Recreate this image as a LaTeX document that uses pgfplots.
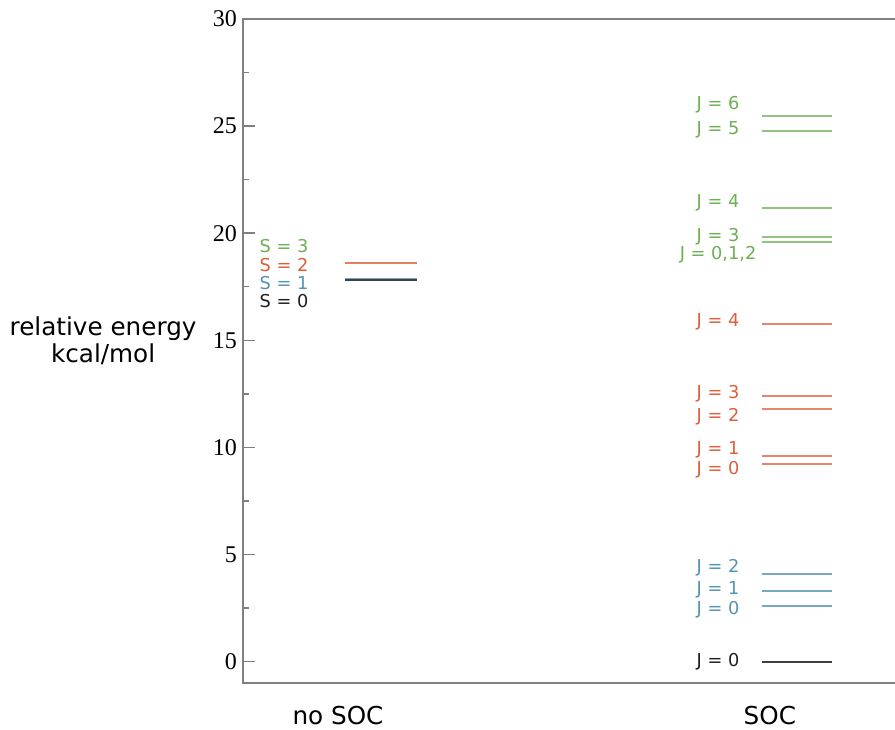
\documentclass[border=0pt]{standalone}
\usepackage{fontspec}
\setmainfont{DejaVu Sans}
\newfontfamily\numfont{Liberation Serif}
\usepackage{pgfplots}
\pgfplotsset{compat=1.18}

\definecolor{lvgreen}{RGB}{108,176,82}
\definecolor{lvorange}{RGB}{222,94,56}
\definecolor{lvblue}{RGB}{82,148,178}
\definecolor{lvblack}{RGB}{30,30,30}
\definecolor{axgray}{RGB}{128,128,128}

\begin{document}
\begin{tikzpicture}
\path[use as bounding box] (-182.25pt,-34.5pt) rectangle (489pt,512.25pt);
\clip (-182.25pt,-34.5pt) rectangle (489pt,512.25pt);
\begin{axis}[
    at={(0pt,0pt)}, anchor=south west,
    scale only axis,
    width=589.5pt, height=498pt,
    xmin=0.78, xmax=2.6,
    ymin=-1, ymax=30,
    clip=false,
    axis line style={draw=axgray, line width=1.5pt},
    ytick={0,5,...,30},
    minor ytick={2.5,7.5,...,27.5},
    ytick pos=left,
    tick align=inside,
    major tick length=9pt,
    minor tick length=4.5pt,
    every tick/.style={draw=axgray, line width=1.1pt},
    xtick={1,2},
    xticklabels={no SOC, SOC},
    x tick style={draw=none},
    xticklabel style={font=\fontsize{18.5}{20}\selectfont, yshift=-14pt},
    yticklabel style={font=\numfont\fontsize{18}{18}\selectfont, xshift=-1pt},
    /pgf/number format/assume math mode=true,
    ylabel={relative energy\\kcal/mol},
    ylabel style={at={(axis description cs:-0.178,0.515)}, rotate=-90, anchor=center, align=center, font=\fontsize{18.5}{20}\selectfont},
    every axis plot/.append style={line width=1.5pt},
]

% no SOC
\addplot[draw=lvorange!80] coordinates {(1.016,18.60) (1.183,18.60)};
\addplot[draw=lvgreen!80] coordinates {(1.016,17.88) (1.183,17.88)};
\addplot[draw=lvblue!80] coordinates {(1.016,17.88) (1.183,17.88)};
\addplot[draw=lvblack!85] coordinates {(1.016,17.80) (1.183,17.80)};

% SOC, green
\addplot[draw=lvgreen!75] coordinates {(1.981,25.49) (2.144,25.49)};
\addplot[draw=lvgreen!75] coordinates {(1.981,24.76) (2.144,24.76)};
\addplot[draw=lvgreen!75] coordinates {(1.981,21.19) (2.144,21.19)};
\addplot[draw=lvgreen!75] coordinates {(1.981,19.80) (2.144,19.80)};
\addplot[draw=lvgreen!75] coordinates {(1.981,19.59) (2.144,19.59)};

% SOC, orange
\addplot[draw=lvorange!75] coordinates {(1.981,15.78) (2.144,15.78)};
\addplot[draw=lvorange!75] coordinates {(1.981,12.38) (2.144,12.38)};
\addplot[draw=lvorange!75] coordinates {(1.981,11.79) (2.144,11.79)};
\addplot[draw=lvorange!75] coordinates {(1.981,9.60) (2.144,9.60)};
\addplot[draw=lvorange!75] coordinates {(1.981,9.21) (2.144,9.21)};

% SOC, blue
\addplot[draw=lvblue!80] coordinates {(1.981,4.10) (2.144,4.10)};
\addplot[draw=lvblue!80] coordinates {(1.981,3.31) (2.144,3.31)};
\addplot[draw=lvblue!80] coordinates {(1.981,2.60) (2.144,2.60)};

% SOC, black
\addplot[draw=lvblack!85] coordinates {(1.981,0) (2.144,0)};

% labels
\begin{scope}[every node/.style={font=\fontsize{13.3}{14}\selectfont, anchor=center, inner sep=0pt}]
\node[lvgreen]  at (axis cs:0.875,19.38) {S = 3};
\node[lvorange] at (axis cs:0.875,18.50) {S = 2};
\node[lvblue]   at (axis cs:0.875,17.66) {S = 1};
\node[lvblack]  at (axis cs:0.875,16.82) {S = 0};

\node[lvgreen] at (axis cs:1.880,26.00) {J = 6};
\node[lvgreen] at (axis cs:1.880,24.84) {J = 5};
\node[lvgreen] at (axis cs:1.880,21.44) {J = 4};
\node[lvgreen] at (axis cs:1.880,19.85) {J = 3};
\node[lvgreen] at (axis cs:1.880,19.01) {J = 0,1,2};

\node[lvorange] at (axis cs:1.880,15.84) {J = 4};
\node[lvorange] at (axis cs:1.880,12.53) {J = 3};
\node[lvorange] at (axis cs:1.880,11.42) {J = 2};
\node[lvorange] at (axis cs:1.880,9.88) {J = 1};
\node[lvorange] at (axis cs:1.880,8.95) {J = 0};

\node[lvblue] at (axis cs:1.880,4.38) {J = 2};
\node[lvblue] at (axis cs:1.880,3.36) {J = 1};
\node[lvblue] at (axis cs:1.880,2.42) {J = 0};

\node[lvblack] at (axis cs:1.880,0) {J = 0};
\end{scope}

\end{axis}
\end{tikzpicture}
\end{document}
